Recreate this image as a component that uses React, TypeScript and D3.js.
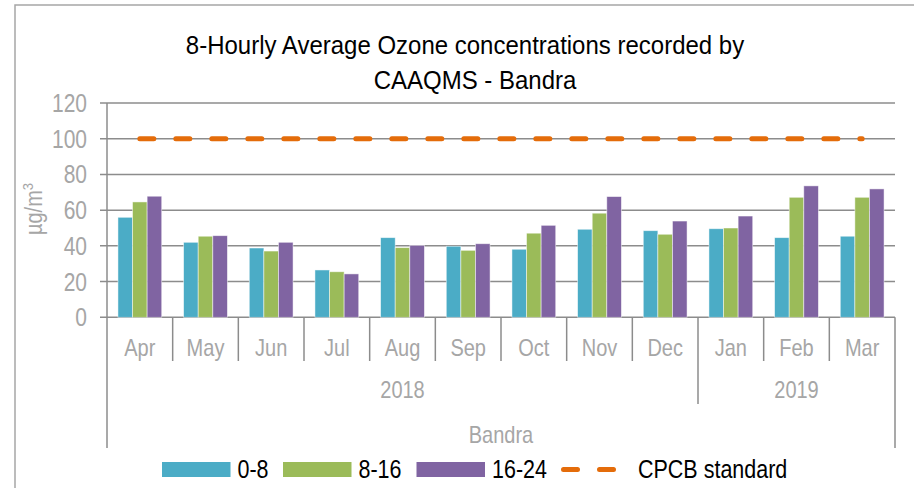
import React, { useRef, useEffect } from "react";
import * as d3 from "d3";

const months = ["Apr", "May", "Jun", "Jul", "Aug", "Sep", "Oct", "Nov", "Dec", "Jan", "Feb", "Mar"];
const monthYear = ["2018", "2018", "2018", "2018", "2018", "2018", "2018", "2018", "2018", "2019", "2019", "2019"];
const seriesNames = ["0-8", "8-16", "16-24"];
const series0to8 = [56.0, 42.0, 38.8, 26.5, 44.6, 39.8, 38.1, 49.3, 48.5, 49.6, 44.6, 45.4];
const series8to16 = [64.6, 45.4, 37.1, 25.5, 39.0, 37.5, 47.1, 58.3, 46.5, 50.0, 67.2, 67.2];
const series16to24 = [67.8, 45.7, 42.0, 24.3, 40.3, 41.2, 51.5, 67.6, 53.9, 56.7, 73.6, 71.9];
const cpcbStandard = [100, 100, 100, 100, 100, 100, 100, 100, 100, 100, 100, 100];
const yTicks = [0, 20, 40, 60, 80, 100, 120];
const stationName = "Bandra";

const colors = ["#4BACC6", "#9BBB59", "#8064A2"];
const orange = "#E46C0A";
const FONT = "'Liberation Sans', Arial, sans-serif";

const W = 914;
const H = 488;
const left = 107;
const right = 895;
const top = 103;
const bottom = 317.3;

const App: React.FC = () => {
  const svgRef = useRef<SVGSVGElement>(null);

  useEffect(() => {
    if (!svgRef.current) return;
    const svg = d3.select(svgRef.current);
    svg.selectAll("*").remove();

    const x0 = d3.scaleBand<string>().domain(months).range([left, right]).paddingInner(0).paddingOuter(0);
    const x1 = d3.scaleBand<string>().domain(seriesNames).range([0, x0.bandwidth()]).paddingInner(0).paddingOuter(0.75);
    const y = d3.scaleLinear().domain([0, 120]).range([bottom, top]);

    // text helper, squeezed a bit horizontally like the original's narrow type
    const txt = (
      g: d3.Selection<SVGGElement, unknown, null, undefined>,
      x: number,
      yy: number,
      s: string,
      size: number,
      fill: string,
      anchor: string,
      sy = 1.12
    ) =>
      g
        .append("text")
        .attr("transform", `translate(${x},${yy}) scale(1,${sy})`)
        .attr("text-anchor", anchor)
        .attr("font-family", FONT)
        .attr("font-size", size)
        .attr("fill", fill)
        .text(s);

    const root = svg.append("g");

    // outer frame (only left + top visible)
    root.append("path").attr("d", `M15,${H} V5 H${W}`).attr("fill", "none").attr("stroke", "#a6a6a6").attr("stroke-width", 1.5);

    // title
    txt(root, 465, 54, "8-Hourly Average Ozone concentrations recorded by", 24, "#000", "middle", 1.08);
    txt(root, 475, 89, "CAAQMS - Bandra", 24, "#000", "middle", 1.08);

    // gridlines + y ticks
    const grid = root.append("g");
    yTicks.forEach((t) => {
      grid
        .append("line")
        .attr("x1", left - 7)
        .attr("x2", right)
        .attr("y1", y(t))
        .attr("y2", y(t))
        .attr("stroke", "#8c8c8c")
        .attr("stroke-width", 1.5);
      txt(grid, 87, y(t) + 9, String(t), 21, "#a6a6a6", "end", 1.22);
    });
    grid.append("line").attr("x1", left).attr("x2", left).attr("y1", top).attr("y2", 448).attr("stroke", "#8c8c8c").attr("stroke-width", 1.5);
    grid.append("line").attr("x1", right).attr("x2", right).attr("y1", bottom).attr("y2", 448).attr("stroke", "#8c8c8c").attr("stroke-width", 1.5);

    // y label
    const yl = root
      .append("text")
      .attr("transform", `translate(42,209) rotate(-90) scale(1,1.15)`)
      .attr("text-anchor", "middle")
      .attr("font-family", FONT)
      .attr("font-size", 20)
      .attr("fill", "#a6a6a6");
    yl.append("tspan").text("µg/m");
    yl.append("tspan").attr("font-size", 13).attr("dy", -8).text("3");

    // bars
    const allSeries = [series0to8, series8to16, series16to24];
    allSeries.forEach((vals, si) => {
      root
        .append("g")
        .selectAll("rect")
        .data(vals)
        .join("rect")
        .attr("x", (_, i) => (x0(months[i]) ?? 0) + (x1(seriesNames[si]) ?? 0))
        .attr("y", (d) => y(d))
        .attr("width", x1.bandwidth())
        .attr("height", (d) => y(0) - y(d))
        .attr("fill", colors[si])
        .attr("stroke", "#ffffff")
        .attr("stroke-opacity", 0.6)
        .attr("stroke-width", 0.8);
    });

    // CPCB standard dashed line
    const line = d3
      .line<number>()
      .x((_, i) => (x0(months[i]) ?? 0) + x0.bandwidth() / 2)
      .y((d) => y(d));
    root
      .append("path")
      .attr("d", line(cpcbStandard) ?? "")
      .attr("fill", "none")
      .attr("stroke", orange)
      .attr("stroke-width", 5)
      .attr("stroke-linecap", "round")
      .attr("stroke-dasharray", "14 22");

    // category axis: month ticks & labels
    const ax = root.append("g");
    months.forEach((m, i) => {
      const xs = x0(m) ?? 0;
      if (i > 0) {
        const yearBoundary = monthYear[i] !== monthYear[i - 1];
        ax.append("line")
          .attr("x1", xs)
          .attr("x2", xs)
          .attr("y1", bottom)
          .attr("y2", yearBoundary ? 404 : 361)
          .attr("stroke", "#8c8c8c")
          .attr("stroke-width", 1.5);
      }
      txt(ax, xs + x0.bandwidth() / 2, 356, m, 20, "#a6a6a6", "middle", 1.2);
    });

    // year labels
    const years = Array.from(new Set(monthYear));
    years.forEach((yr) => {
      const idx = monthYear.map((v, i) => (v === yr ? i : -1)).filter((i) => i >= 0);
      const xa = x0(months[idx[0]]) ?? 0;
      const xb = (x0(months[idx[idx.length - 1]]) ?? 0) + x0.bandwidth();
      txt(ax, (xa + xb) / 2, 398, yr, 20, "#a6a6a6", "middle", 1.2);
    });
    txt(ax, (left + right) / 2, 443, stationName, 20, "#a6a6a6", "middle", 1.2);

    // legend
    const lg = root.append("g");
    const legendX = [162, 283, 416.5];
    seriesNames.forEach((s, i) => {
      lg.append("rect").attr("x", legendX[i]).attr("y", 462).attr("width", 68.5).attr("height", 15).attr("fill", colors[i]);
      txt(lg, legendX[i] + 75.5, 477.5, s, 21.5, "#000", "start", 1.22);
    });
    lg.append("line")
      .attr("x1", 563.5)
      .attr("x2", 614)
      .attr("y1", 469.5)
      .attr("y2", 469.5)
      .attr("stroke", orange)
      .attr("stroke-width", 5)
      .attr("stroke-linecap", "round")
      .attr("stroke-dasharray", "14 22");
    txt(lg, 638, 477.5, "CPCB standard", 21.5, "#000", "start", 1.22);
  }, []);

  return (
    <svg
      ref={svgRef}
      width={W}
      height={H}
      style={{ position: "absolute", left: 0, top: 0, background: "#fff" }}
    />
  );
};

export default App;
